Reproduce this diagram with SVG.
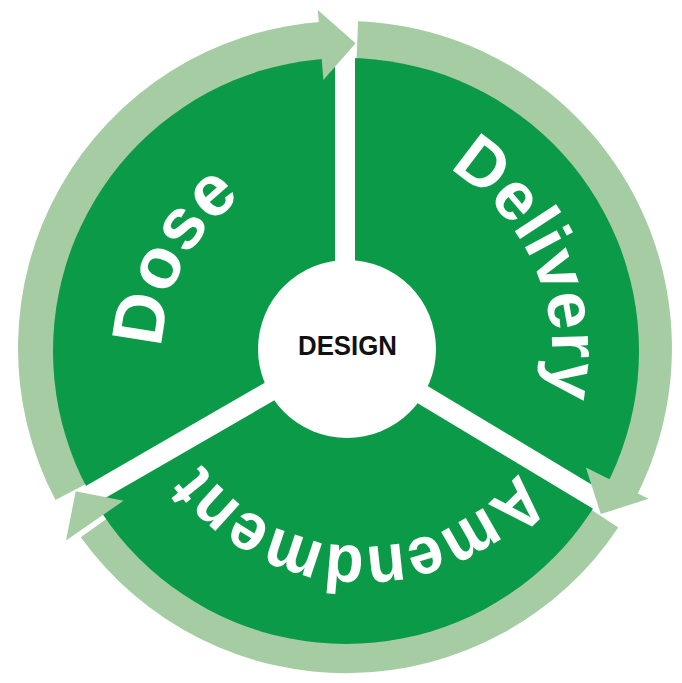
<svg xmlns="http://www.w3.org/2000/svg" width="682" height="683" viewBox="0 0 682 683">
  <style>
    .ring { fill: #a6cca3; }
    .disc { fill: #0b9a48; }
    .bar { stroke: #ffffff; stroke-width: 20; stroke-linecap: butt; fill: none; }
    .lbl { font-family: "Liberation Sans", Arial, sans-serif; font-weight: bold; fill: #ffffff; }
    .ctr { font-family: "Liberation Sans", Arial, sans-serif; font-weight: bold; fill: #111111; font-size: 28px; }
  </style>
  <defs>
    <path id="p-dose" d="M 257.7 513.2 A 186 186 0 0 1 432.3 184.8"/>
    <path id="p-delivery" d="M 260.6 154.6 A 212 212 0 0 1 429.4 543.4"/>
    <path id="p-amend" d="M 562.9 355.2 A 200 200 0 0 1 163.1 344.8"/>
  </defs>
  <rect width="682" height="683" fill="#ffffff"/>

  <!-- ring tails (under the disc) -->
  <g id="connectors">
    <path class="ring" d="M 55.5 500.0 A 327 327 0 0 1 324.5 21.6 L 323.6 69.9 A 270 270 0 0 0 105.9 473.5 Z"/>
    <path class="ring" d="M 358.1 21.3 A 327 327 0 0 1 635.2 498.6 L 585.0 471.9 A 270 270 0 0 0 355.8 78.2 Z"/>
    <path class="ring" d="M 618.3 527.5 A 327 327 0 0 1 80.8 537.2 L 126.9 504.3 A 270 270 0 0 0 570.7 496.2 Z"/>
  </g>

  <!-- dark disc -->
  <g id="disc">
    <circle class="disc" cx="346" cy="351" r="293"/>
  </g>

  <!-- white separators -->
  <g id="separators">
    <line class="bar" x1="345" y1="348" x2="345" y2="18"/>
    <line class="bar" x1="345" y1="348" x2="627.9" y2="518.0"/>
    <line class="bar" x1="345" y1="348" x2="59.2" y2="513.0"/>
  </g>

  <!-- arrowheads on top -->
  <g id="arrowheads">
    <polygon class="ring" points="317.8,10.1 355.6,43.2 323.4,79.9"/>
    <polygon class="ring" points="648.6,498.7 600.8,514.1 585.9,467.6"/>
    <polygon class="ring" points="66.0,540.5 75.7,491.2 123.6,500.7"/>
  </g>

  <g id="dose">
    <text class="lbl" font-size="72"><textPath href="#p-dose" startOffset="50%" text-anchor="middle">Dose</textPath></text>
  </g>
  <g id="delivery">
    <text class="lbl" font-size="68"><textPath href="#p-delivery" startOffset="50%" text-anchor="middle">Delivery</textPath></text>
  </g>
  <g id="amendment">
    <text class="lbl" font-size="68"><textPath href="#p-amend" startOffset="50%" text-anchor="middle" textLength="366" lengthAdjust="spacingAndGlyphs">Amendment</textPath></text>
  </g>

  <g id="design">
    <circle cx="347" cy="349" r="89" fill="#ffffff"/>
    <text class="ctr" x="347.5" y="355" text-anchor="middle" textLength="99" lengthAdjust="spacingAndGlyphs">DESIGN</text>
  </g>
</svg>
